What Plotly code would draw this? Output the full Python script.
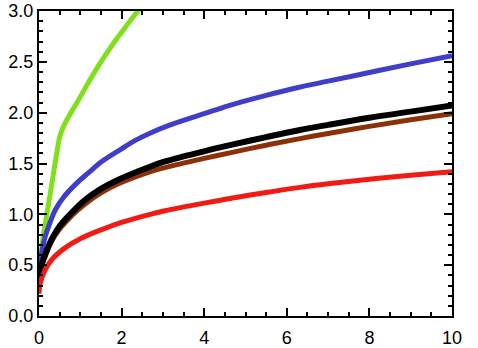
import plotly.graph_objects as go

# Data
green_x = [0, 0.02, 0.05, 0.1, 0.18, 0.25, 0.35, 0.45, 0.5, 0.6, 0.8, 0.95, 1.2, 1.5, 1.8, 2.0, 2.2, 2.45]
green_y = [0.35, 0.48, 0.62, 0.78, 0.98, 1.15, 1.4, 1.65, 1.76, 1.87, 2.02, 2.12, 2.30, 2.50, 2.68, 2.79, 2.90, 3.03]

blue_x = [0, 0.02, 0.065, 0.15, 0.25, 0.39, 0.6, 0.87, 1.2, 1.52, 2.0, 2.32, 2.7, 3.05, 4.0, 4.6, 5.5, 6.3, 7.0, 8.0, 9.0, 10]
blue_y = [0.35, 0.5, 0.62, 0.78, 0.9, 1.04, 1.17, 1.29, 1.41, 1.52, 1.645, 1.725, 1.80, 1.86, 1.99, 2.07, 2.17, 2.25, 2.31, 2.395, 2.48, 2.56]

black_x = [0, 0.02, 0.06, 0.145, 0.3, 0.51, 0.8, 1.11, 1.5, 1.92, 2.7, 3.05, 4.0, 4.62, 5.5, 6.32, 7.0, 8.0, 9.0, 10]
black_y = [0.35, 0.42, 0.5, 0.6, 0.75, 0.89, 1.02, 1.14, 1.25, 1.34, 1.47, 1.52, 1.62, 1.68, 1.76, 1.83, 1.88, 1.95, 2.01, 2.07]

brown_x = [0, 0.02, 0.06, 0.145, 0.3, 0.51, 0.8, 1.11, 1.5, 1.92, 2.7, 3.05, 4.0, 4.62, 5.5, 6.32, 7.0, 8.0, 9.0, 10]
brown_y = [0.35, 0.41, 0.49, 0.58, 0.73, 0.86, 0.99, 1.10, 1.21, 1.30, 1.42, 1.46, 1.55, 1.605, 1.68, 1.745, 1.795, 1.865, 1.93, 1.99]

red_x = [0, 0.03, 0.145, 0.3, 0.63, 1.0, 1.52, 2.0, 2.69, 3.05, 4.0, 4.62, 5.5, 6.32, 7.0, 8.0, 9.0, 10]
red_y = [0.22, 0.32, 0.45, 0.55, 0.67, 0.76, 0.85, 0.92, 1.0, 1.035, 1.11, 1.155, 1.215, 1.265, 1.30, 1.345, 1.385, 1.42]

series = [
    ("green", green_x, green_y, "#80e01c", 5),
    ("blue", blue_x, blue_y, "#3e3ec8", 5),
    ("brown", brown_x, brown_y, "#8c3008", 5),
    ("black", black_x, black_y, "#000000", 6),
    ("red", red_x, red_y, "#f01c14", 5),
]

fig = go.Figure()
for name, xs, ys, col, w in series:
    fig.add_trace(go.Scatter(x=xs, y=ys, mode="lines", name=name,
                             line=dict(color=col, width=w, shape="spline", smoothing=1.0),
                             cliponaxis=True))

axis_common = dict(
    showgrid=False, zeroline=False, showline=True, linecolor="black", linewidth=2,
    mirror="allticks", ticks="inside", ticklen=8, tickwidth=1.5, tickcolor="black",
    automargin=False,
    tickfont=dict(family="Liberation Sans, Arial", size=18, color="black"),
)

fig.update_xaxes(range=[0, 10], tick0=0, dtick=2, tickformat="d",
                 minor=dict(ticks="inside", ticklen=4, dtick=0.5, tick0=0, tickcolor="black", tickwidth=1.5),
                 ticklabelstandoff=4, **axis_common)
fig.update_yaxes(range=[0, 3.0], tick0=0, dtick=0.5, tickformat=".1f",
                 minor=dict(ticks="inside", ticklen=4, dtick=0.1, tick0=0, tickcolor="black", tickwidth=1.5),
                 ticklabelstandoff=0, **axis_common)

fig.update_layout(
    width=478, height=348,
    margin=dict(l=39, r=26, t=11, b=32),
    plot_bgcolor="white", paper_bgcolor="white",
    showlegend=False,
)

fig.write_html("out.html", config={"displayModeBar": False},
               post_script="document.body.style.margin='0';")
